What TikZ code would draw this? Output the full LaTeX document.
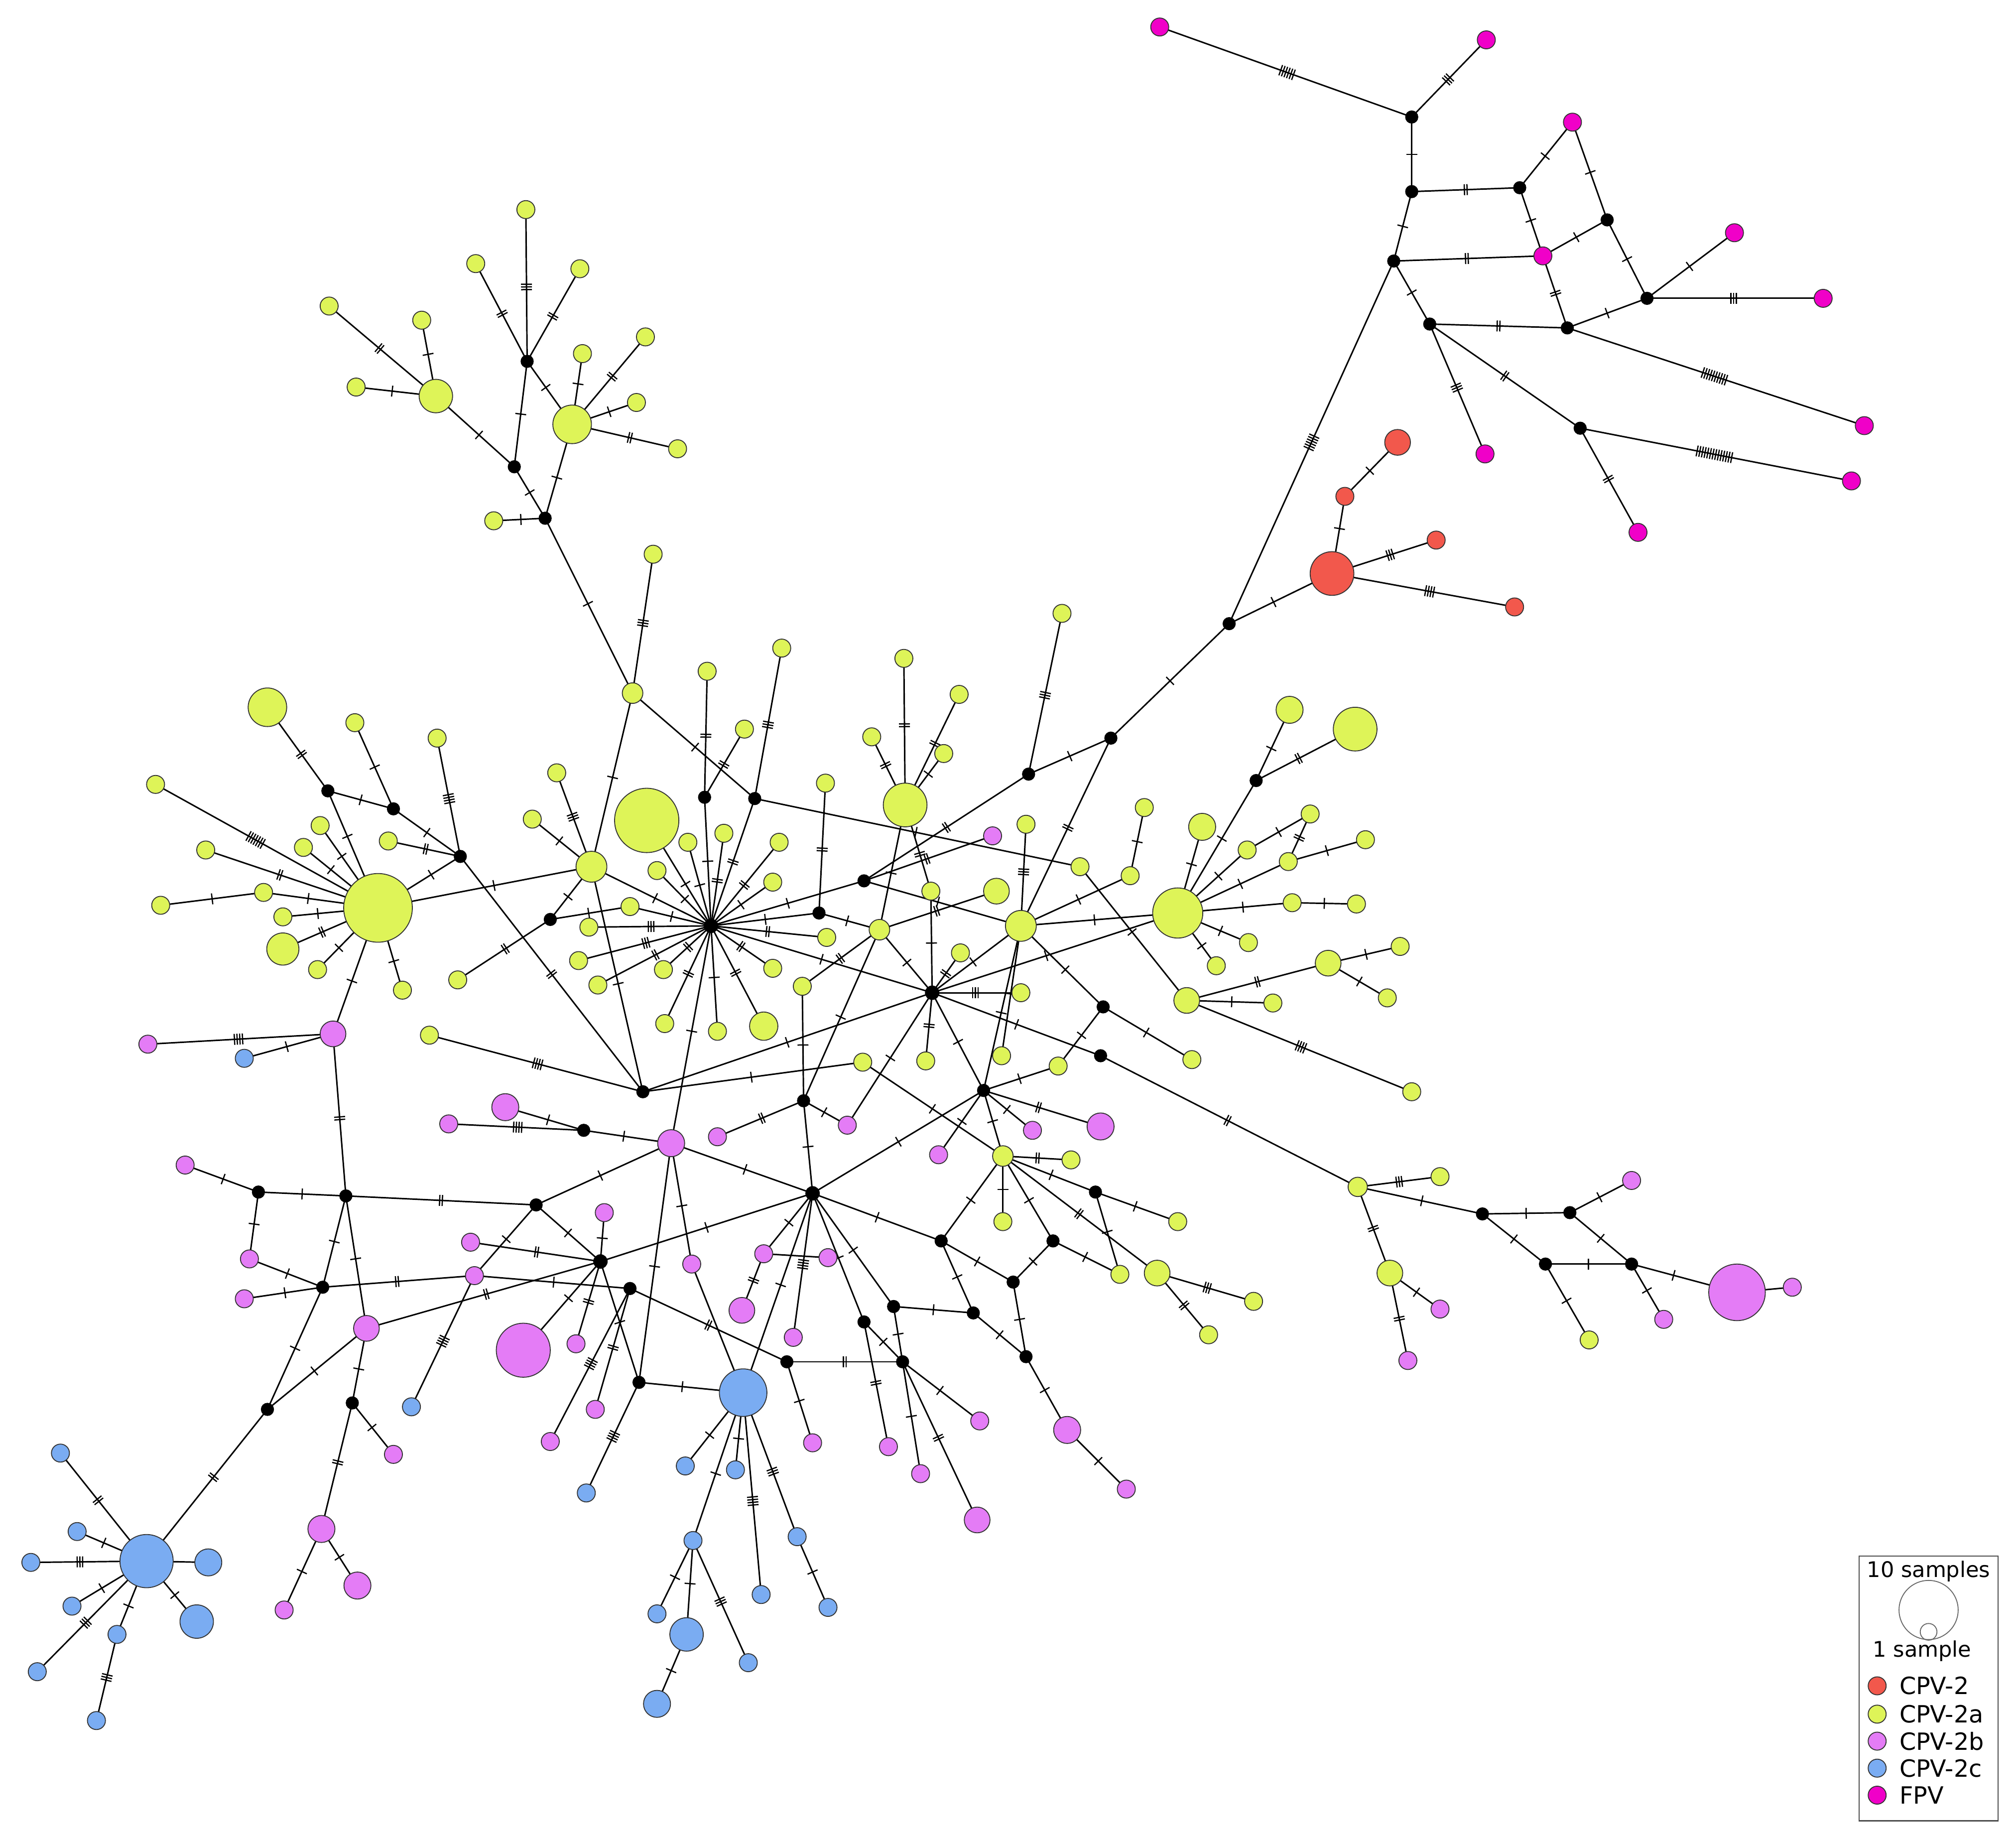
\documentclass[tikz,border=0pt]{standalone}
\usepackage{fontspec}
\setmainfont{DejaVu Sans}
\usetikzlibrary{decorations.markings}
\pgfdeclarelayer{back}
\pgfdeclarelayer{bg}
\pgfsetlayers{back,bg,main}
\definecolor{cR}{RGB}{242,88,76}
\definecolor{cG}{RGB}{222,244,88}
\definecolor{cP}{RGB}{228,124,246}
\definecolor{cB}{RGB}{122,172,242}
\definecolor{cF}{RGB}{240,0,200}
\tikzset{
  hap/.style={circle,draw=black!80,line width=0.4pt,inner sep=0pt,outer sep=0pt},
  gn/.style={hap,fill=cG,minimum size={2*#1*0.02cm}}, gn/.default=7,
  pk/.style={hap,fill=cP,minimum size={2*#1*0.02cm}}, pk/.default=7,
  bl/.style={hap,fill=cB,minimum size={2*#1*0.02cm}}, bl/.default=7,
  rd/.style={hap,fill=cR,minimum size={2*#1*0.02cm}}, rd/.default=7,
  fv/.style={hap,fill=cF,minimum size={2*#1*0.02cm}}, fv/.default=7,
  bk/.style={circle,fill=black,draw=black,inner sep=0pt,outer sep=0pt,minimum size=0.19cm},
  ed/.style={line width=0.65pt,draw=black},
  tk/.style={postaction={decorate,decoration={markings,mark=at position 0.5 with {\foreach \i in {1,...,#1}{\draw[line width=0.55pt] ({(\i-(#1+1)/2)*0.042cm},-0.085cm) -- ++(0,0.17cm);}}}}},
  tk/.default=1,
  lg/.style={font=\fontsize{9.5}{11}\selectfont,inner sep=0pt},
  lc/.style={font=\fontsize{10.5}{12}\selectfont,inner sep=0pt,anchor=west},
}
\newcommand\edg[3][1]{\draw[ed,tk=#1] (#2) -- (#3);}
\begin{document}
\begin{tikzpicture}[x=0.02cm,y=-0.02cm]
\useasboundingbox (0,0) rectangle (1568,1429);
\begin{pgfonlayer}{back}
\fill[white] (0,0) rectangle (1568,1429);
\end{pgfonlayer}
% ---------- FPV ----------
\node[fv] (F1) at (902,21) {};
\node[fv] (F2) at (1156,31) {};
\node[bk] (b1) at (1098,91) {};
\node[fv] (F3) at (1223,95) {};
\node[bk] (b2) at (1098,149) {};
\node[bk] (b3) at (1182,146) {};
\node[bk] (b4) at (1250,171) {};
\node[fv] (F4) at (1349,181) {};
\node[bk] (b5) at (1084,203) {};
\node[fv] (F5) at (1200,199) {};
\node[bk] (b6) at (1281,232) {};
\node[fv] (F6) at (1418,232) {};
\node[bk] (b7) at (1112,252) {};
\node[bk] (b8) at (1219,255) {};
\node[fv] (F7) at (1450,331) {};
\node[bk] (b9) at (1229,333) {};
\node[fv] (F8) at (1155,353) {};
\node[fv] (F9) at (1440,374) {};
\node[fv] (F10) at (1274,414) {};
% ---------- CPV-2 ----------
\node[rd=17] (R0) at (1036,446) {};
\node[rd=10] (R1) at (1087,344) {};
\node[rd] (R2) at (1046,386) {};
\node[rd] (R3) at (1117,420) {};
\node[rd] (R4) at (1178,472) {};
\node[bk] (bA) at (956,485) {};
\node[bk] (bB) at (864,574) {};
\node[bk] (bC) at (800,602) {};
\node[gn] (a1) at (826,477) {};
% ---------- upper left ----------
\node[gn] (U1) at (409,163) {};
\node[gn] (U2) at (370,205) {};
\node[gn] (U3) at (451,209) {};
\node[gn] (U4) at (256,238) {};
\node[gn] (U5) at (328,249) {};
\node[gn] (U6) at (502,262) {};
\node[bk] (ub1) at (410,281) {};
\node[gn] (U7) at (453,275) {};
\node[gn] (U8) at (277,301) {};
\node[gn=13] (UG1) at (339,308) {};
\node[gn] (U9) at (495,313) {};
\node[gn=15] (UG2) at (445,330) {};
\node[gn] (U10) at (527,349) {};
\node[bk] (ub2) at (400,363) {};
\node[gn] (U11) at (384,405) {};
\node[bk] (ub3) at (424,403) {};
\node[gn] (U12) at (508,431) {};
\node[gn=8] (GC1) at (492,539) {};
% ---------- center ----------
\node[gn] (c1) at (550,522) {};
\node[gn] (c2) at (608,504) {};
\node[gn] (c3) at (579,567) {};
\node[bk] (kc1) at (548,620) {};
\node[bk] (kc2) at (587,621) {};
\node[gn] (c4) at (433,601) {};
\node[gn] (c5) at (414,637) {};
\node[gn=25] (BG1) at (503,638) {};
\node[gn] (c6) at (642,609) {};
\node[gn] (c7) at (535,655) {};
\node[gn] (c8) at (563,648) {};
\node[gn] (c9) at (606,655) {};
\node[gn=12] (c10) at (460,674) {};
\node[gn] (c11) at (511,677) {};
\node[gn] (c12) at (601,686) {};
\node[gn] (c13) at (490,705) {};
\node[bk] (kc3) at (428,715) {};
\node[gn] (c14) at (458,721) {};
\node[bk] (kc4) at (637,710) {};
\node[bk,minimum size=0.21cm] (bH) at (553,720) {};
\node[gn] (c15) at (643,729) {};
\node[gn] (c16) at (450,747) {};
\node[gn] (c17) at (516,754) {};
\node[gn] (c18) at (601,753) {};
\node[gn] (c19) at (624,767) {};
\node[gn] (c20) at (465,766) {};
\node[gn] (c21) at (517,796) {};
\node[gn] (c22) at (558,802) {};
\node[gn=11] (c23) at (594,798) {};
% ---------- center right ----------
\node[gn] (d1) at (703,512) {};
\node[gn] (d2) at (746,540) {};
\node[gn] (d3) at (678,573) {};
\node[gn] (d4) at (734,586) {};
\node[gn=17] (BG2) at (704,626) {};
\node[pk] (p0) at (772,650) {};
\node[gn] (d6) at (798,641) {};
\node[gn] (d7) at (890,628) {};
\node[gn] (d8) at (840,674) {};
\node[gn] (d9) at (879,681) {};
\node[gn=10] (d10) at (775,693) {};
\node[gn] (d11) at (724,693) {};
\node[bk] (bD) at (672,685) {};
\node[gn=8] (d12) at (684,723) {};
\node[gn=12] (GB) at (794,720) {};
\node[gn] (d13) at (747,741) {};
\node[bk,minimum size=0.21cm] (bE) at (725,772) {};
\node[gn] (d14) at (794,772) {};
\node[gn] (d15) at (720,825) {};
\node[gn] (d16) at (671,826) {};
\node[gn] (d17) at (779,821) {};
\node[gn] (d18) at (823,829) {};
\node[bk] (kd1) at (858,783) {};
\node[bk] (kd2) at (856,821) {};
% ---------- right cluster ----------
\node[gn=10.5] (e1) at (1003,552) {};
\node[gn=17] (e2) at (1054,567) {};
\node[bk] (ke) at (977,607) {};
\node[gn=10.5] (e3) at (935,643) {};
\node[gn] (e4) at (1019,633) {};
\node[gn] (e5) at (1062,653) {};
\node[gn] (e6) at (970,661) {};
\node[gn] (e7) at (1002,670) {};
\node[gn=19.5] (GR) at (916,710) {};
\node[gn] (e8) at (1005,702) {};
\node[gn] (e9) at (1055,703) {};
\node[gn] (e10) at (971,733) {};
\node[gn] (e11) at (946,751) {};
\node[gn=10] (e12) at (1033,749) {};
\node[gn] (e13) at (1089,736) {};
\node[gn=10] (e14) at (923,778) {};
\node[gn] (e15) at (990,780) {};
\node[gn] (e16) at (1079,776) {};
\node[gn] (e17) at (927,824) {};
\node[gn] (e18) at (1098,849) {};
% ---------- right bottom ----------
\node[gn=7.5] (h1) at (1056,923) {};
\node[gn] (h2) at (1120,915) {};
\node[bk] (kh1) at (1153,944) {};
\node[bk] (kh2) at (1221,943) {};
\node[pk] (h3) at (1269,918) {};
\node[bk] (kh3) at (1202,983) {};
\node[bk] (kh4) at (1269,983) {};
\node[gn=10] (h4) at (1081,990) {};
\node[pk=22] (PB) at (1351,1005) {};
\node[pk] (h5) at (1394,1001) {};
\node[pk] (h6) at (1120,1018) {};
\node[pk] (h7) at (1294,1026) {};
\node[gn] (h8) at (1236,1042) {};
\node[pk] (h9) at (1095,1058) {};
% ---------- lower left ----------
\node[pk] (l1) at (115,812) {};
\node[bl] (l2) at (190,823) {};
\node[pk=10] (l3) at (259,804) {};
\node[gn] (l4) at (334,805) {};
\node[bk] (bP) at (500,849) {};
\node[pk=10.5] (l5) at (393,861) {};
\node[pk] (l6) at (349,874) {};
\node[bk] (kl1) at (454,879) {};
\node[pk=10.5] (l7) at (522,889) {};
\node[pk] (l8) at (558,884) {};
\node[pk] (l9) at (144,906) {};
\node[bk] (kl2) at (201,927) {};
\node[bk] (kl3) at (269,930) {};
\node[bk] (kl4) at (417,937) {};
\node[pk] (l10) at (470,943) {};
\node[pk] (l11) at (366,966) {};
\node[pk] (l12) at (194,979) {};
\node[bk,minimum size=0.21cm] (bQ) at (467,981) {};
\node[pk] (l13) at (369,992) {};
\node[pk] (l14) at (538,983) {};
\node[bk] (kl5) at (251,1001) {};
\node[bk] (kl6) at (490,1002) {};
\node[pk] (l15) at (190,1010) {};
\node[pk=10] (l16) at (285,1033) {};
\node[pk=21] (PL) at (407,1050) {};
\node[pk] (l17) at (448,1045) {};
\node[bk] (kl7) at (497,1075) {};
\node[bk] (kl8) at (208,1096) {};
\node[bk] (kl9) at (274,1091) {};
\node[bl] (l18) at (320,1094) {};
% ---------- center bottom ----------
\node[bk] (kf1) at (625,856) {};
\node[pk] (f1) at (659,875) {};
\node[bk,minimum size=0.21cm] (bF) at (632,928) {};
\node[pk] (f2) at (594,975) {};
\node[pk] (f3) at (644,978) {};
\node[bk] (kf2) at (732,965) {};
\node[pk=10] (f4) at (577,1019) {};
\node[bk] (kf3) at (695,1016) {};
\node[bk] (kf4) at (757,1021) {};
\node[bk] (kf5) at (672,1028) {};
\node[bk] (kf6) at (788,997) {};
\node[pk] (f5) at (617,1040) {};
\node[bk] (kf7) at (612,1059) {};
\node[bk] (kf8) at (702,1059) {};
\node[bk] (kf9) at (798,1055) {};
\node[bl=18.5] (BB) at (578,1083) {};
\node[pk] (f6) at (463,1096) {};
\node[pk] (f7) at (428,1121) {};
\node[pk] (f8) at (632,1122) {};
\node[pk] (f9) at (691,1125) {};
\node[pk] (f10) at (762,1105) {};
\node[pk] (f11) at (716,1146) {};
\node[pk=10] (f12) at (760,1182) {};
\node[pk=10.5] (f13) at (830,1112) {};
\node[pk] (f14) at (876,1158) {};
\node[bk] (bG) at (765,848) {};
\node[pk] (g1) at (803,879) {};
\node[pk=10.5] (g2) at (856,876) {};
\node[pk] (g3) at (730,898) {};
\node[gn=8] (GX) at (780,899) {};
\node[gn] (g4) at (833,902) {};
\node[bk] (kg1) at (852,927) {};
\node[gn] (g5) at (780,950) {};
\node[gn] (g6) at (916,950) {};
\node[bk] (kg2) at (819,965) {};
\node[gn] (g7) at (871,991) {};
\node[gn=10] (g8) at (900,990) {};
\node[gn] (g9) at (975,1012) {};
\node[gn] (g10) at (940,1038) {};
% ---------- blue bottom ----------
\node[bl] (q1) at (456,1161) {};
\node[bl] (q2) at (533,1140) {};
\node[bl] (q3) at (572,1143) {};
\node[bl] (q4) at (539,1198) {};
\node[bl] (q5) at (620,1195) {};
\node[bl] (q6) at (592,1240) {};
\node[bl] (q7) at (644,1250) {};
\node[bl] (q8) at (511,1255) {};
\node[bl=13] (q9) at (534,1271) {};
\node[bl] (q10) at (582,1293) {};
\node[bl=10.5] (q11) at (511,1325) {};
% ---------- blue left ----------
\node[bl=20.7] (BL) at (114,1214) {};
\node[bl] (s1) at (47,1130) {};
\node[bl] (s2) at (60,1191) {};
\node[bl] (s3) at (24,1215) {};
\node[bl=10.5] (s4) at (162,1215) {};
\node[bl] (s5) at (56,1249) {};
\node[bl=13] (s6) at (153,1261) {};
\node[bl] (s7) at (91,1271) {};
\node[bl] (s8) at (29,1300) {};
\node[bl] (s9) at (75,1338) {};
\node[pk] (t1) at (306,1131) {};
\node[pk=10.5] (t2) at (250,1189) {};
\node[pk=10.5] (t3) at (278,1233) {};
\node[pk] (t4) at (221,1252) {};
% ---------- left cluster ----------
\node[gn=15] (m1) at (208,550) {};
\node[gn] (m2) at (276,562) {};
\node[gn] (m3) at (340,574) {};
\node[gn] (m4) at (121,610) {};
\node[bk] (km1) at (255,615) {};
\node[bk] (km2) at (306,629) {};
\node[gn] (m5) at (249,642) {};
\node[gn] (m6) at (236,659) {};
\node[gn] (m7) at (302,654) {};
\node[gn] (m8) at (160,661) {};
\node[bk] (km3) at (358,666) {};
\node[gn=26.7] (GL) at (294,706) {};
\node[gn] (m9) at (205,694) {};
\node[gn] (m10) at (125,704) {};
\node[gn] (m11) at (220,713) {};
\node[gn=12.5] (m12) at (220,738) {};
\node[gn] (m13) at (247,754) {};
\node[gn] (m14) at (313,770) {};
\node[gn] (m15) at (356,762) {};
% ---------- legend ----------
\draw[line width=0.5pt,draw=black!70] (1446,1210) rectangle (1554,1416);
\node[lg] (lt1) at (1500,1222) {10 samples};
\node[circle,draw=black!60,line width=0.4pt,minimum size=0.92cm,inner sep=0pt] (lc1) at (1500,1252) {};
\node[circle,draw=black!60,line width=0.4pt,minimum size=0.26cm,inner sep=0pt] (lc2) at (1500,1269) {};
\node[lg] (lt2) at (1495,1284) {1 sample};
\node[rd] (k1) at (1460,1311) {}; \node[lc] (kt1) at (1477,1311) {CPV-2};
\node[gn] (k2) at (1460,1333) {}; \node[lc] (kt2) at (1477,1333) {CPV-2a};
\node[pk] (k3) at (1460,1354) {}; \node[lc] (kt3) at (1477,1354) {CPV-2b};
\node[bl] (k4) at (1460,1375) {}; \node[lc] (kt4) at (1477,1375) {CPV-2c};
\node[fv] (k5) at (1460,1396) {}; \node[lc] (kt5) at (1477,1396) {FPV};
% ================= EDGES =================
\begin{pgfonlayer}{bg}
% FPV
\edg[6]{F1}{b1} \edg[3]{F2}{b1} \edg{b1}{b2} \edg[2]{b2}{b3} \edg{b3}{F3}
\edg{F3}{b4} \edg{b3}{F5} \edg{b2}{b5} \edg[2]{b5}{F5} \edg{F5}{b4}
\edg{b4}{b6} \edg[2]{F5}{b8} \edg{b6}{F4} \edg[3]{b6}{F6} \edg{b8}{b6}
\edg{b5}{b7} \edg[2]{b7}{b8} \edg[10]{b8}{F7} \edg[3]{b7}{F8} \edg[2]{b7}{b9}
\edg[14]{b9}{F9} \edg[2]{b9}{F10} \edg[6]{b5}{bA}
% red
\edg{R0}{R2} \edg{R2}{R1} \edg[3]{R0}{R3} \edg[4]{R0}{R4} \edg{R0}{bA}
\edg{bA}{bB} \edg{bB}{bC} \edg[3]{bC}{a1} \edg[2]{bC}{bD} \edg[2]{bB}{GB}
% upper left
\edg[3]{U1}{ub1} \edg[2]{U2}{ub1} \edg[2]{U3}{ub1} \edg{ub1}{UG2} \edg{ub1}{ub2}
\edg[2]{U4}{UG1} \edg{U5}{UG1} \edg{U8}{UG1} \edg{UG1}{ub2} \edg{ub2}{ub3}
\edg{U7}{UG2} \edg[2]{U6}{UG2} \edg{U9}{UG2} \edg[2]{U10}{UG2} \edg{UG2}{ub3}
\edg{U11}{ub3} \edg{ub3}{GC1} \edg[3]{U12}{GC1}
% center
\edg{GC1}{kc2} \edg{GC1}{c10} \edg[3]{c4}{c10} \edg{c5}{c10} \edg{c10}{kc3}
\edg{c10}{GL} \edg{c10}{bH} \edg{c10}{bP}
\edg{bH}{BG1} \edg{bH}{c7} \edg{bH}{kc1} \edg[2]{bH}{c8} \edg[2]{bH}{kc2}
\edg[2]{bH}{c9} \edg{bH}{c12} \edg{bH}{kc4} \edg{bH}{bD} \edg[2]{bH}{c15}
\edg[2]{bH}{c18} \edg{bH}{bE} \edg[2]{bH}{c23} \edg{bH}{c22} \edg[2]{bH}{c21}
\edg[2]{bH}{c17} \edg[2]{bH}{c20} \edg[3]{bH}{c16} \edg[3]{bH}{c14} \edg{bH}{c13}
\edg{bH}{c11} \edg{bH}{l7}
\edg[2]{kc1}{c1} \edg[2]{kc1}{c3} \edg[3]{kc2}{c2} \edg{kc2}{d8}
\edg[2]{c6}{kc4} \edg{kc4}{d12} \edg{kc3}{c13} \edg[2]{kc3}{m15}
% center right
\edg[2]{BG2}{d1} \edg[2]{BG2}{d2} \edg[2]{BG2}{d3} \edg{BG2}{d4}
\edg[2]{BG2}{d11} \edg{BG2}{d12}
\edg[2]{bD}{p0} \edg{bD}{GB}
\edg{d11}{bE} \edg{d12}{bE} \edg[2]{d12}{d10} \edg{d12}{kf1} \edg[2]{d12}{c19}
\edg{c19}{kf1}
\edg[3]{GB}{d6} \edg{GB}{d9} \edg{d7}{d9} \edg{GB}{GR} \edg{GB}{bE}
\edg{GB}{bG} \edg{GB}{kd1} \edg{GB}{d17}
\edg[2]{bE}{d13} \edg[3]{bE}{d14} \edg[2]{bE}{d15} \edg{bE}{bG} \edg{bE}{bP}
\edg{bE}{f1} \edg{bE}{kd2} \edg{bE}{GR}
\edg{d8}{e14} \edg{kd1}{e17} \edg{kd1}{d18} \edg[2]{kd2}{h1}
% right cluster
\edg{ke}{e1} \edg[2]{ke}{e2} \edg{ke}{GR} \edg{e3}{GR} \edg{e6}{GR}
\edg{e6}{e4} \edg{e7}{GR} \edg[2]{e7}{e4} \edg{e7}{e5} \edg{e8}{GR}
\edg{e8}{e9} \edg{e10}{GR} \edg{e11}{GR}
\edg[2]{e14}{e12} \edg{e14}{e15} \edg[4]{e14}{e18} \edg{e12}{e13} \edg{e12}{e16}
% right bottom
\edg[3]{h1}{h2} \edg{h1}{kh1} \edg[2]{h1}{h4} \edg{kh1}{kh2} \edg{kh2}{h3}
\edg{kh1}{kh3} \edg{kh2}{kh4} \edg{kh3}{kh4} \edg{kh4}{PB} \draw[ed] (PB) -- (h5);
\edg{kh4}{h7} \edg{kh3}{h8} \edg{h4}{h6} \edg[2]{h4}{h9}
% zoom-9 area
\edg{bG}{d18} \edg{bG}{g1} \edg[2]{bG}{g2} \edg{bG}{g3} \edg{bG}{GX} \edg{bG}{bF}
\edg{GX}{d16} \edg[2]{GX}{g4} \edg{GX}{kg1} \edg{GX}{g5} \edg{GX}{kf2}
\edg{GX}{kg2} \edg[2]{GX}{g8}
\edg{kg1}{g6} \edg{kg1}{g7} \edg{kg2}{g7} \edg{kg2}{kf6} \edg{kf2}{kf6}
\edg{kf2}{kf4} \edg{kf6}{kf9} \edg{kf4}{kf9} \edg{kf9}{f13} \edg{kf4}{kf3}
\edg{f13}{f14} \edg[3]{g8}{g9} \edg[2]{g8}{g10} \edg{bF}{kf2}
% center bottom
\edg[4]{bP}{l4} \edg[2]{bP}{km3} \edg{bP}{d16}
\edg{kl1}{l5} \edg[4]{kl1}{l6} \edg{kl1}{l7}
\edg{l7}{kl4} \edg{l7}{bF} \edg{l7}{l14} \edg{l7}{kl7}
\edg[2]{kf1}{l8} \edg{kf1}{f1} \edg{kf1}{bF}
\edg{bF}{bQ} \edg{bF}{f2} \edg{bF}{BB} \edg[4]{bF}{f5} \edg{bF}{kf3} \edg{bF}{kf5}
\draw[ed] (f2) -- (f3); \edg[2]{f2}{f4}
\edg{kf3}{kf8} \edg{kf5}{kf8} \edg[2]{kf5}{f9}
\edg[2]{kf7}{kf8} \edg{kf7}{f8} \edg[2]{kl6}{kf7}
\edg{kf8}{f10} \edg{kf8}{f11} \edg[2]{kf8}{f12}
\draw[ed] (l14) -- (BB);
\edg{BB}{kl7} \edg{BB}{q2} \edg{BB}{q3} \edg{BB}{q4} \edg[4]{BB}{q6} \edg[3]{BB}{q5}
\edg{q5}{q7} \edg{q4}{q8} \edg{q4}{q9} \edg[3]{q4}{q10} \edg{q9}{q11}
\edg[4]{kl7}{q1} \edg{bQ}{kl7}
% lower left
\edg[4]{l1}{l3} \edg{l2}{l3} \edg[2]{l3}{kl3} \edg{l3}{GL}
\edg{l9}{kl2} \edg{kl2}{kl3} \edg[2]{kl3}{kl4} \edg{kl2}{l12} \edg{l12}{kl5}
\edg{l15}{kl5} \edg{kl3}{kl5} \edg{kl3}{l16} \edg[2]{kl5}{l13} \edg{kl5}{kl8}
\edg{l16}{kl8} \edg{l16}{kl9} \edg[2]{l16}{bQ} \edg{kl4}{bQ} \edg{kl4}{l13}
\edg[2]{l11}{bQ} \edg{l10}{bQ} \edg[4]{l13}{l18} \edg{l13}{kl6} \edg{bQ}{PL}
\edg[2]{bQ}{l17} \edg[2]{kl6}{f6} \edg[4]{kl6}{f7}
\edg[2]{kl8}{BL} \edg[2]{kl9}{t2} \edg{kl9}{t1} \edg{t2}{t4} \edg{t2}{t3}
% blue left
\edg[2]{BL}{s1} \edg{BL}{s2} \edg[3]{BL}{s3} \draw[ed] (BL) -- (s4); \edg{BL}{s6}
\edg{BL}{s5} \edg[3]{BL}{s8} \edg{BL}{s7} \edg[3]{s7}{s9}
% left cluster
\edg[2]{m1}{km1} \edg{m2}{km2} \edg{km1}{km2} \edg{km1}{GL} \edg{km2}{km3}
\edg[4]{m3}{km3} \edg[2]{m7}{km3} \edg{km3}{GL} \edg[7]{m4}{GL} \edg[2]{m8}{GL}
\edg{m5}{GL} \edg{m6}{GL} \edg{m9}{GL} \edg{m10}{m9} \edg{m11}{GL}
\edg[2]{m12}{GL} \edg{m13}{GL} \edg{m14}{GL}
\end{pgfonlayer}
\end{tikzpicture}
\end{document}
